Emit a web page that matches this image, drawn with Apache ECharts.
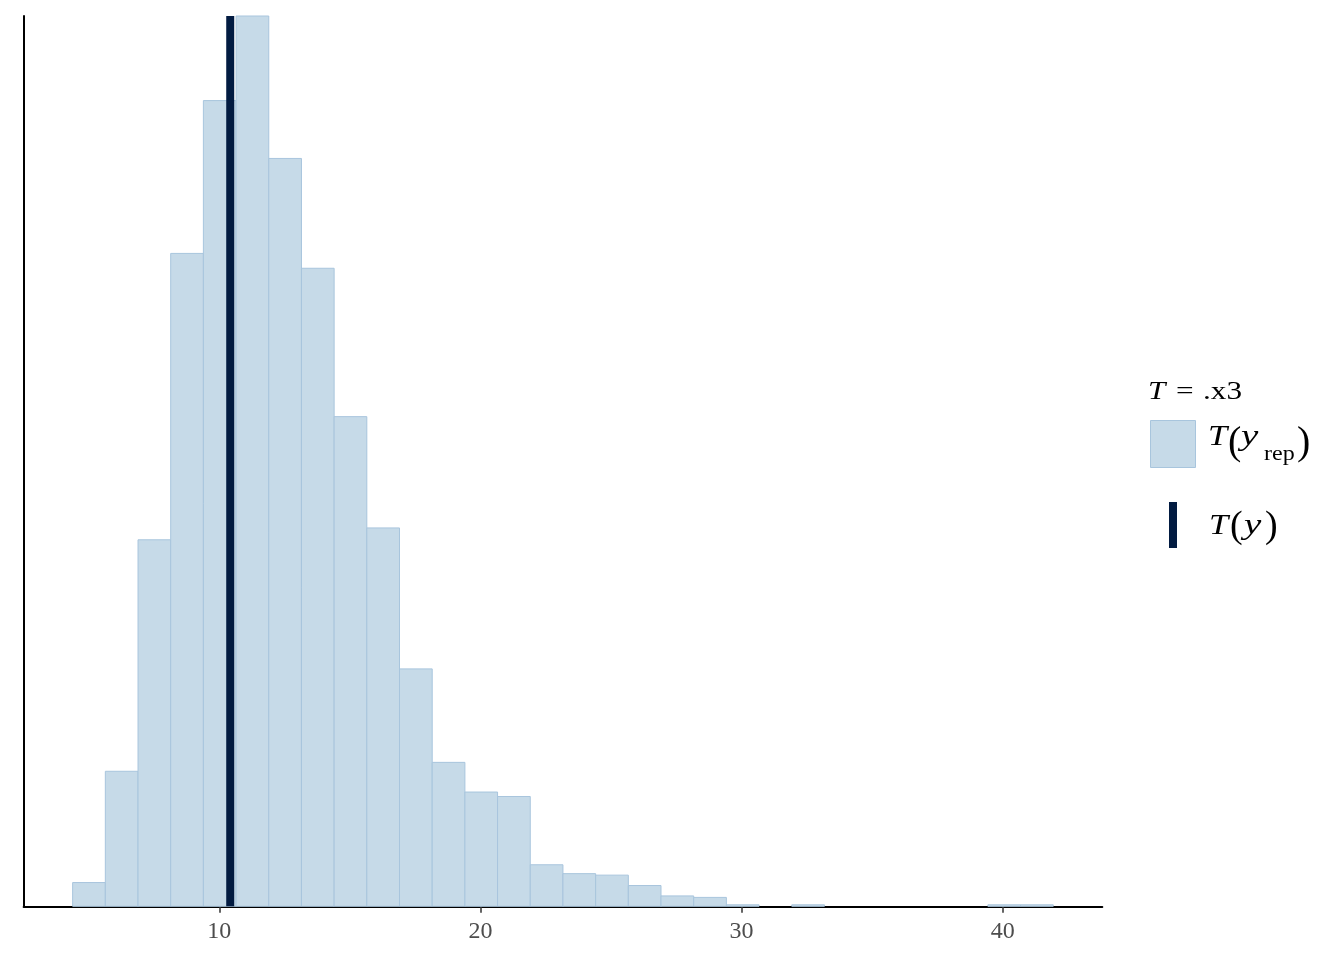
<!DOCTYPE html>
<html>
<head>
<meta charset="utf-8">
<script src="https://cdn.jsdelivr.net/npm/echarts@6/dist/echarts.min.js"></script>
<style>
html,body{margin:0;padding:0;background:#fff;}
#chart{width:1344px;height:960px;}
</style>
</head>
<body>
<div id="chart"></div>
<script>
// Histogram bin edges (T(y_rep) statistic values)
const binEdges = [4.385, 5.637, 6.889, 8.140, 9.392, 10.644, 11.896, 13.148, 14.399, 15.651,
  16.903, 18.155, 19.407, 20.658, 21.910, 23.162, 24.414, 25.666, 26.917, 28.169,
  29.421, 30.673, 31.925, 33.176, 34.428, 35.680, 36.932, 38.184, 39.435, 40.687, 41.939];
// Counts per bin (out of ~4000 draws)
const binCounts = [16, 91, 247, 440, 543, 600, 504, 430, 330, 255,
  160, 97, 77, 74, 28, 22, 21, 14, 7, 6,
  1, 0, 1, 0, 0, 0, 0, 0, 1, 1];
// Observed statistic T(y)
const observedT = 10.42;
// X axis range and tick labels
const xMin = 2.507, xMax = 43.817;
const xTicks = [10, 20, 30, 40];

const FONT = 'Liberation Serif';
const FILL = '#c6dae8';
const EDGE = '#a8c5dd';
const DARK = '#021b41';

const histData = binCounts.map((c, i) => [binEdges[i], binEdges[i + 1], c]);
const yMax = Math.max(...binCounts);

// text element positioned by its left edge and em-middle line, optionally stretched horizontally
function txt(str, x, midY, size, italic, sx) {
  return {
    type: 'text', x: x, y: midY, scaleX: sx || 1.2, scaleY: 1,
    style: {text: str, fontFamily: FONT, fontSize: size, fontStyle: italic ? 'italic' : 'normal',
            fill: '#000', align: 'left', verticalAlign: 'middle'}
  };
}

const chart = echarts.init(document.getElementById('chart'), null, {renderer: 'canvas'});
chart.setOption({
  animation: false,
  backgroundColor: '#ffffff',
  grid: {left: 23.6, right: 241.7, top: 16, bottom: 53.7, containLabel: false},
  xAxis: {
    type: 'value', min: xMin, max: xMax,
    splitLine: {show: false},
    axisLine: {show: true, onZero: false, lineStyle: {color: '#000', width: 2}},
    axisTick: {show: true, customValues: xTicks, length: 6.5, lineStyle: {color: '#333', width: 1.5}},
    axisLabel: {show: true, customValues: xTicks, margin: 13, color: '#4d4d4d', fontFamily: FONT, fontSize: 24}
  },
  yAxis: {
    type: 'value', min: 0, max: yMax,
    splitLine: {show: false},
    axisLine: {show: true, onZero: false, lineStyle: {color: '#000', width: 2}},
    axisTick: {show: false},
    axisLabel: {show: false}
  },
  series: [
    {
      type: 'custom',
      data: histData,
      encode: {x: [0, 1], y: 2},
      renderItem: function (params, api) {
        const c = api.value(2);
        if (!c) return null;
        const p0 = api.coord([api.value(0), c]);
        const p1 = api.coord([api.value(1), 0]);
        return {
          type: 'rect',
          shape: {x: p0[0], y: p0[1], width: p1[0] - p0[0], height: p1[1] - p0[1]},
          style: {fill: FILL, stroke: EDGE, lineWidth: 1}
        };
      },
      z: 2
    },
    {
      type: 'line',
      data: [[observedT, 0], [observedT, yMax]],
      symbol: 'none',
      lineStyle: {color: DARK, width: 8, cap: 'butt'},
      z: 3
    }
  ],
  graphic: [
    txt('T', 1148, 392, 26, true),
    txt('=', 1176, 392, 26, false),
    txt('.x3', 1203, 392, 26, false),
    {type: 'rect', shape: {x: 1150.5, y: 420.5, width: 45, height: 47}, style: {fill: FILL, stroke: EDGE, lineWidth: 1}},
    txt('T', 1208, 437, 30, true, 1.15),
    txt('(', 1228, 443, 40, false, 1.0),
    txt('y', 1241, 437, 30, true, 1.3),
    txt('rep', 1264, 455, 20, false),
    txt(')', 1297, 443, 40, false, 1.0),
    {type: 'rect', shape: {x: 1169, y: 502, width: 8, height: 46}, style: {fill: DARK}},
    txt('T', 1209, 526, 30, true, 1.15),
    txt('(', 1230, 527, 38, false, 1.0),
    txt('y', 1244, 526, 30, true, 1.3),
    txt(')', 1265, 527, 38, false, 1.0)
  ]
});
</script>
</body>
</html>
